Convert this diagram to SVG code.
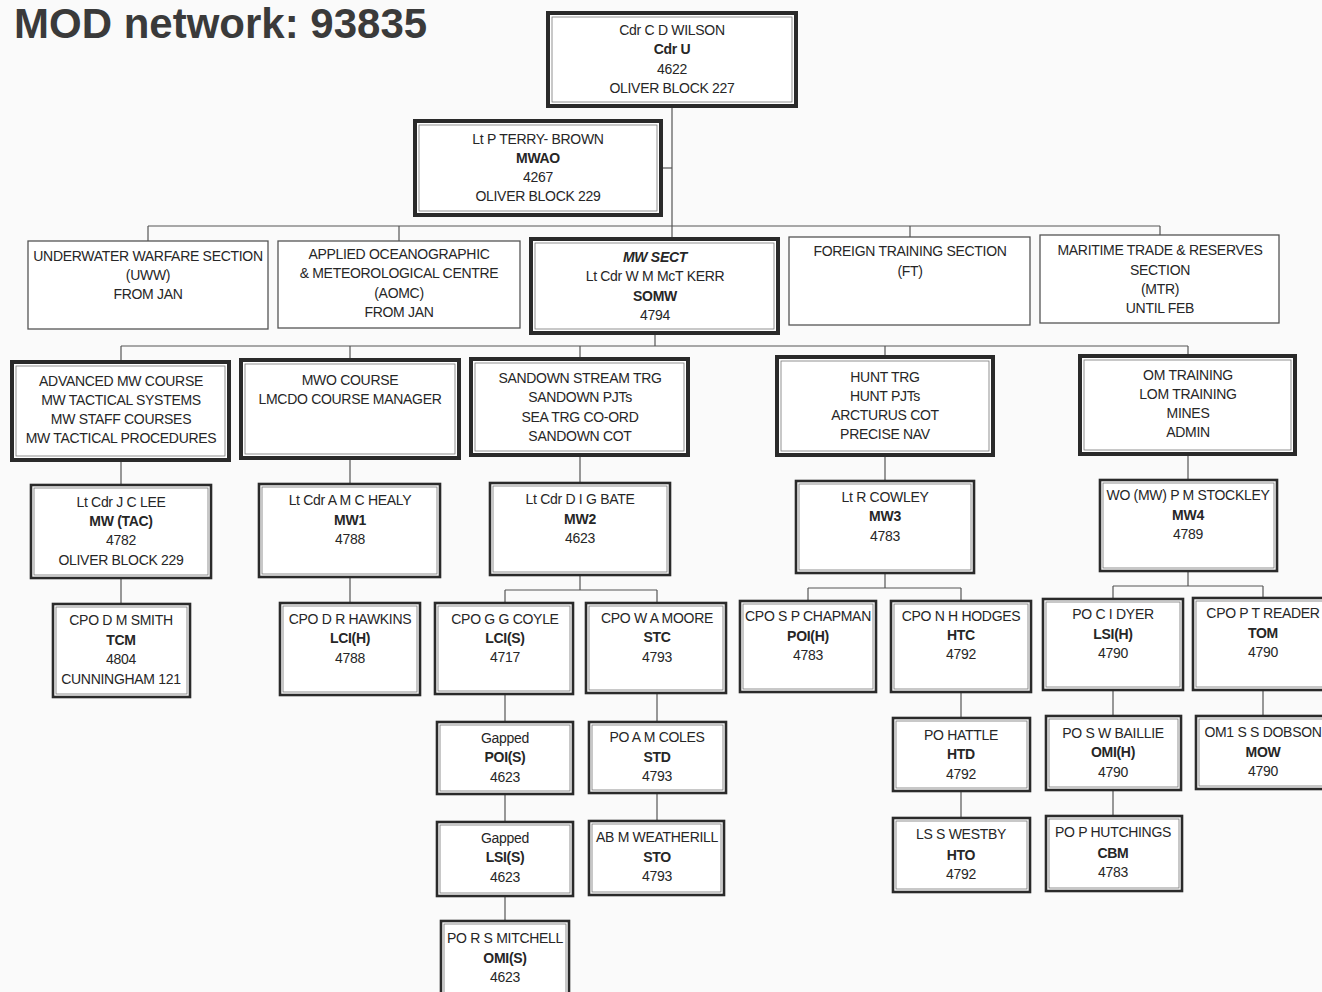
<svg xmlns="http://www.w3.org/2000/svg" width="1322" height="992" viewBox="0 0 1322 992">
<style>
text{font-family:"Liberation Sans",Arial,sans-serif;font-size:14px;fill:#262626;text-anchor:middle;letter-spacing:-0.3px}
.b{font-weight:bold}
.bi{font-weight:bold;font-style:italic}
.title{font-size:42px;font-weight:bold;text-anchor:start;fill:#3a3a3a;letter-spacing:0}
.thin{fill:#fff;stroke:#555;stroke-width:1.3}
.med{fill:#fff;stroke:#2a2a2a;stroke-width:2.6}
.thick{fill:#fff;stroke:#2a2a2a;stroke-width:4}
.inner{fill:none;stroke:#777;stroke-width:0.8}
.conn line{stroke:#555;stroke-width:1.2}
</style>
<rect width="1322" height="992" fill="#fafafa"/>
<text class="title" x="14" y="38">MOD network: 93835</text>

<g class="conn" id="connectors">
<line x1="672" y1="106" x2="672" y2="239"/>
<line x1="661" y1="168" x2="672" y2="168"/>
<line x1="148" y1="226" x2="1160" y2="226"/>
<line x1="148" y1="226" x2="148" y2="241"/>
<line x1="399" y1="226" x2="399" y2="241"/>
<line x1="910" y1="226" x2="910" y2="237"/>
<line x1="1160" y1="226" x2="1160" y2="235"/>
<line x1="655" y1="333" x2="655" y2="346"/>
<line x1="121" y1="346" x2="1188" y2="346"/>
<line x1="121" y1="346" x2="121" y2="362"/>
<line x1="350" y1="346" x2="350" y2="360"/>
<line x1="580" y1="346" x2="580" y2="359"/>
<line x1="885" y1="346" x2="885" y2="357"/>
<line x1="1188" y1="346" x2="1188" y2="356"/>
<line x1="121" y1="460" x2="121" y2="485"/>
<line x1="350" y1="458" x2="350" y2="484"/>
<line x1="580" y1="455" x2="580" y2="483"/>
<line x1="885" y1="455" x2="885" y2="481"/>
<line x1="1188" y1="454" x2="1188" y2="480"/>
<line x1="121" y1="578" x2="121" y2="604"/>
<line x1="350" y1="577" x2="350" y2="603"/>
<line x1="580" y1="575" x2="580" y2="590"/>
<line x1="505" y1="590" x2="657" y2="590"/>
<line x1="505" y1="590" x2="505" y2="603"/>
<line x1="657" y1="590" x2="657" y2="603"/>
<line x1="885" y1="573" x2="885" y2="588"/>
<line x1="808" y1="588" x2="961" y2="588"/>
<line x1="808" y1="588" x2="808" y2="601"/>
<line x1="961" y1="588" x2="961" y2="601"/>
<line x1="1188" y1="571" x2="1188" y2="586"/>
<line x1="1113" y1="586" x2="1263" y2="586"/>
<line x1="1113" y1="586" x2="1113" y2="599"/>
<line x1="1263" y1="586" x2="1263" y2="598"/>
<line x1="505" y1="694" x2="505" y2="722"/>
<line x1="505" y1="794" x2="505" y2="822"/>
<line x1="505" y1="896" x2="505" y2="921"/>
<line x1="657" y1="693" x2="657" y2="722"/>
<line x1="657" y1="793" x2="657" y2="821"/>
<line x1="961" y1="692" x2="961" y2="718"/>
<line x1="961" y1="791" x2="961" y2="818"/>
<line x1="1113" y1="690" x2="1113" y2="716"/>
<line x1="1113" y1="790" x2="1113" y2="816"/>
<line x1="1263" y1="690" x2="1263" y2="716"/>
</g>

<g id="n-wilson"><rect class="thick" x="548" y="13" width="248" height="93"/><rect class="inner" x="552" y="17" width="240" height="85"/>
<text x="672" y="35">Cdr C D WILSON</text><text class="b" x="672" y="54">Cdr U</text><text x="672" y="74">4622</text><text x="672" y="93">OLIVER BLOCK 227</text></g>

<g id="n-terrybrown"><rect class="thick" x="415" y="121" width="246" height="94"/><rect class="inner" x="419" y="125" width="238" height="86"/>
<text x="538" y="144">Lt P TERRY- BROWN</text><text class="b" x="538" y="163">MWAO</text><text x="538" y="182">4267</text><text x="538" y="201">OLIVER BLOCK 229</text></g>

<g id="n-uww"><rect class="thin" x="28" y="241" width="240" height="88"/>
<text x="148" y="261">UNDERWATER WARFARE SECTION</text><text x="148" y="280">(UWW)</text><text x="148" y="299">FROM JAN</text></g>

<g id="n-aomc"><rect class="thin" x="278" y="241" width="242" height="87"/>
<text x="399" y="259">APPLIED OCEANOGRAPHIC</text><text x="399" y="278">&amp; METEOROLOGICAL CENTRE</text><text x="399" y="298">(AOMC)</text><text x="399" y="317">FROM JAN</text></g>

<g id="n-mwsect"><rect class="thick" x="531" y="239" width="247" height="94"/><rect class="inner" x="535" y="243" width="239" height="86"/>
<text class="bi" x="655" y="262">MW SECT</text><text x="655" y="281">Lt Cdr W M McT KERR</text><text class="b" x="655" y="301">SOMW</text><text x="655" y="320">4794</text></g>

<g id="n-ft"><rect class="thin" x="789" y="237" width="241" height="88"/>
<text x="910" y="256">FOREIGN TRAINING SECTION</text><text x="910" y="276">(FT)</text></g>

<g id="n-mtr"><rect class="thin" x="1040" y="235" width="239" height="88"/>
<text x="1160" y="255">MARITIME TRADE &amp; RESERVES</text><text x="1160" y="275">SECTION</text><text x="1160" y="294">(MTR)</text><text x="1160" y="313">UNTIL FEB</text></g>

<g id="n-adv"><rect class="thick" x="12" y="362" width="217" height="98"/><rect class="inner" x="16" y="366" width="209" height="90"/>
<text x="121" y="386">ADVANCED MW COURSE</text><text x="121" y="405">MW TACTICAL SYSTEMS</text><text x="121" y="424">MW STAFF COURSES</text><text x="121" y="443">MW TACTICAL PROCEDURES</text></g>

<g id="n-mwo"><rect class="thick" x="241" y="360" width="218" height="98"/><rect class="inner" x="245" y="364" width="210" height="90"/>
<text x="350" y="385">MWO COURSE</text><text x="350" y="404">LMCDO COURSE MANAGER</text></g>

<g id="n-sandown"><rect class="thick" x="471" y="359" width="217" height="96"/><rect class="inner" x="475" y="363" width="209" height="88"/>
<text x="580" y="383">SANDOWN STREAM TRG</text><text x="580" y="402">SANDOWN PJTs</text><text x="580" y="422">SEA TRG CO-ORD</text><text x="580" y="441">SANDOWN COT</text></g>

<g id="n-hunt"><rect class="thick" x="777" y="357" width="216" height="98"/><rect class="inner" x="781" y="361" width="208" height="90"/>
<text x="885" y="382">HUNT TRG</text><text x="885" y="401">HUNT PJTs</text><text x="885" y="420">ARCTURUS COT</text><text x="885" y="439">PRECISE NAV</text></g>

<g id="n-om"><rect class="thick" x="1080" y="356" width="215" height="98"/><rect class="inner" x="1084" y="360" width="207" height="90"/>
<text x="1188" y="380">OM TRAINING</text><text x="1188" y="399">LOM TRAINING</text><text x="1188" y="418">MINES</text><text x="1188" y="437">ADMIN</text></g>

<g id="n-lee"><rect class="med" x="31" y="485" width="180" height="93"/><rect class="inner" x="34" y="488" width="174" height="87"/>
<text x="121" y="507">Lt Cdr J C LEE</text><text class="b" x="121" y="526">MW (TAC)</text><text x="121" y="545">4782</text><text x="121" y="565">OLIVER BLOCK 229</text></g>

<g id="n-healy"><rect class="med" x="259" y="484" width="181" height="93"/><rect class="inner" x="262" y="487" width="175" height="87"/>
<text x="350" y="505">Lt Cdr A M C HEALY</text><text class="b" x="350" y="525">MW1</text><text x="350" y="544">4788</text></g>

<g id="n-bate"><rect class="med" x="490" y="483" width="180" height="92"/><rect class="inner" x="493" y="486" width="174" height="86"/>
<text x="580" y="504">Lt Cdr D I G BATE</text><text class="b" x="580" y="524">MW2</text><text x="580" y="543">4623</text></g>

<g id="n-cowley"><rect class="med" x="796" y="481" width="178" height="92"/><rect class="inner" x="799" y="484" width="172" height="86"/>
<text x="885" y="502">Lt R COWLEY</text><text class="b" x="885" y="521">MW3</text><text x="885" y="541">4783</text></g>

<g id="n-stockley"><rect class="med" x="1100" y="480" width="177" height="91"/><rect class="inner" x="1103" y="483" width="171" height="85"/>
<text x="1188" y="500">WO (MW) P M STOCKLEY</text><text class="b" x="1188" y="520">MW4</text><text x="1188" y="539">4789</text></g>

<g id="n-smith"><rect class="med" x="53" y="604" width="137" height="93"/><rect class="inner" x="56" y="607" width="131" height="87"/>
<text x="121" y="625">CPO D M SMITH</text><text class="b" x="121" y="645">TCM</text><text x="121" y="664">4804</text><text x="121" y="684">CUNNINGHAM 121</text></g>

<g id="n-hawkins"><rect class="med" x="280" y="603" width="140" height="92"/><rect class="inner" x="283" y="606" width="134" height="86"/>
<text x="350" y="624">CPO D R HAWKINS</text><text class="b" x="350" y="643">LCI(H)</text><text x="350" y="663">4788</text></g>

<g id="n-coyle"><rect class="med" x="435" y="603" width="138" height="91"/><rect class="inner" x="438" y="606" width="132" height="85"/>
<text x="505" y="624">CPO G G COYLE</text><text class="b" x="505" y="643">LCI(S)</text><text x="505" y="662">4717</text></g>

<g id="n-moore"><rect class="med" x="586" y="603" width="140" height="90"/><rect class="inner" x="589" y="606" width="134" height="84"/>
<text x="657" y="623">CPO W A MOORE</text><text class="b" x="657" y="642">STC</text><text x="657" y="662">4793</text></g>

<g id="n-chapman"><rect class="med" x="740" y="601" width="136" height="91"/><rect class="inner" x="743" y="604" width="130" height="85"/>
<text x="808" y="621">CPO S P CHAPMAN</text><text class="b" x="808" y="641">POI(H)</text><text x="808" y="660">4783</text></g>

<g id="n-hodges"><rect class="med" x="891" y="601" width="140" height="91"/><rect class="inner" x="894" y="604" width="134" height="85"/>
<text x="961" y="621">CPO N H HODGES</text><text class="b" x="961" y="640">HTC</text><text x="961" y="659">4792</text></g>

<g id="n-dyer"><rect class="med" x="1043" y="599" width="140" height="91"/><rect class="inner" x="1046" y="602" width="134" height="85"/>
<text x="1113" y="619">PO C I DYER</text><text class="b" x="1113" y="639">LSI(H)</text><text x="1113" y="658">4790</text></g>

<g id="n-reader"><rect class="med" x="1193" y="598" width="136" height="92"/><rect class="inner" x="1196" y="601" width="130" height="86"/>
<text x="1263" y="618">CPO P T READER</text><text class="b" x="1263" y="638">TOM</text><text x="1263" y="657">4790</text></g>

<g id="n-gapped-poi"><rect class="med" x="437" y="722" width="136" height="72"/><rect class="inner" x="440" y="725" width="130" height="66"/>
<text x="505" y="743">Gapped</text><text class="b" x="505" y="762">POI(S)</text><text x="505" y="782">4623</text></g>

<g id="n-coles"><rect class="med" x="589" y="722" width="137" height="71"/><rect class="inner" x="592" y="725" width="131" height="65"/>
<text x="657" y="742">PO A M COLES</text><text class="b" x="657" y="762">STD</text><text x="657" y="781">4793</text></g>

<g id="n-hattle"><rect class="med" x="893" y="718" width="137" height="73"/><rect class="inner" x="896" y="721" width="131" height="67"/>
<text x="961" y="740">PO  HATTLE</text><text class="b" x="961" y="759">HTD</text><text x="961" y="779">4792</text></g>

<g id="n-baillie"><rect class="med" x="1046" y="716" width="135" height="74"/><rect class="inner" x="1049" y="719" width="129" height="68"/>
<text x="1113" y="738">PO S W BAILLIE</text><text class="b" x="1113" y="757">OMI(H)</text><text x="1113" y="777">4790</text></g>

<g id="n-dobson"><rect class="med" x="1196" y="716" width="132" height="73"/><rect class="inner" x="1199" y="719" width="126" height="67"/>
<text x="1263" y="737">OM1 S S DOBSON</text><text class="b" x="1263" y="757">MOW</text><text x="1263" y="776">4790</text></g>

<g id="n-gapped-lsi"><rect class="med" x="437" y="822" width="136" height="74"/><rect class="inner" x="440" y="825" width="130" height="68"/>
<text x="505" y="843">Gapped</text><text class="b" x="505" y="862">LSI(S)</text><text x="505" y="882">4623</text></g>

<g id="n-weatherill"><rect class="med" x="589" y="821" width="135" height="74"/><rect class="inner" x="592" y="824" width="129" height="68"/>
<text x="657" y="842">AB M WEATHERILL</text><text class="b" x="657" y="862">STO</text><text x="657" y="881">4793</text></g>

<g id="n-westby"><rect class="med" x="893" y="818" width="137" height="74"/><rect class="inner" x="896" y="821" width="131" height="68"/>
<text x="961" y="839">LS S WESTBY</text><text class="b" x="961" y="860">HTO</text><text x="961" y="879">4792</text></g>

<g id="n-hutchings"><rect class="med" x="1046" y="816" width="136" height="75"/><rect class="inner" x="1049" y="819" width="130" height="69"/>
<text x="1113" y="837">PO P HUTCHINGS</text><text class="b" x="1113" y="858">CBM</text><text x="1113" y="877">4783</text></g>

<g id="n-mitchell"><rect class="med" x="441" y="921" width="128" height="78"/><rect class="inner" x="444" y="924" width="122" height="72"/>
<text x="505" y="943">PO R S MITCHELL</text><text class="b" x="505" y="963">OMI(S)</text><text x="505" y="982">4623</text></g>
</svg>
